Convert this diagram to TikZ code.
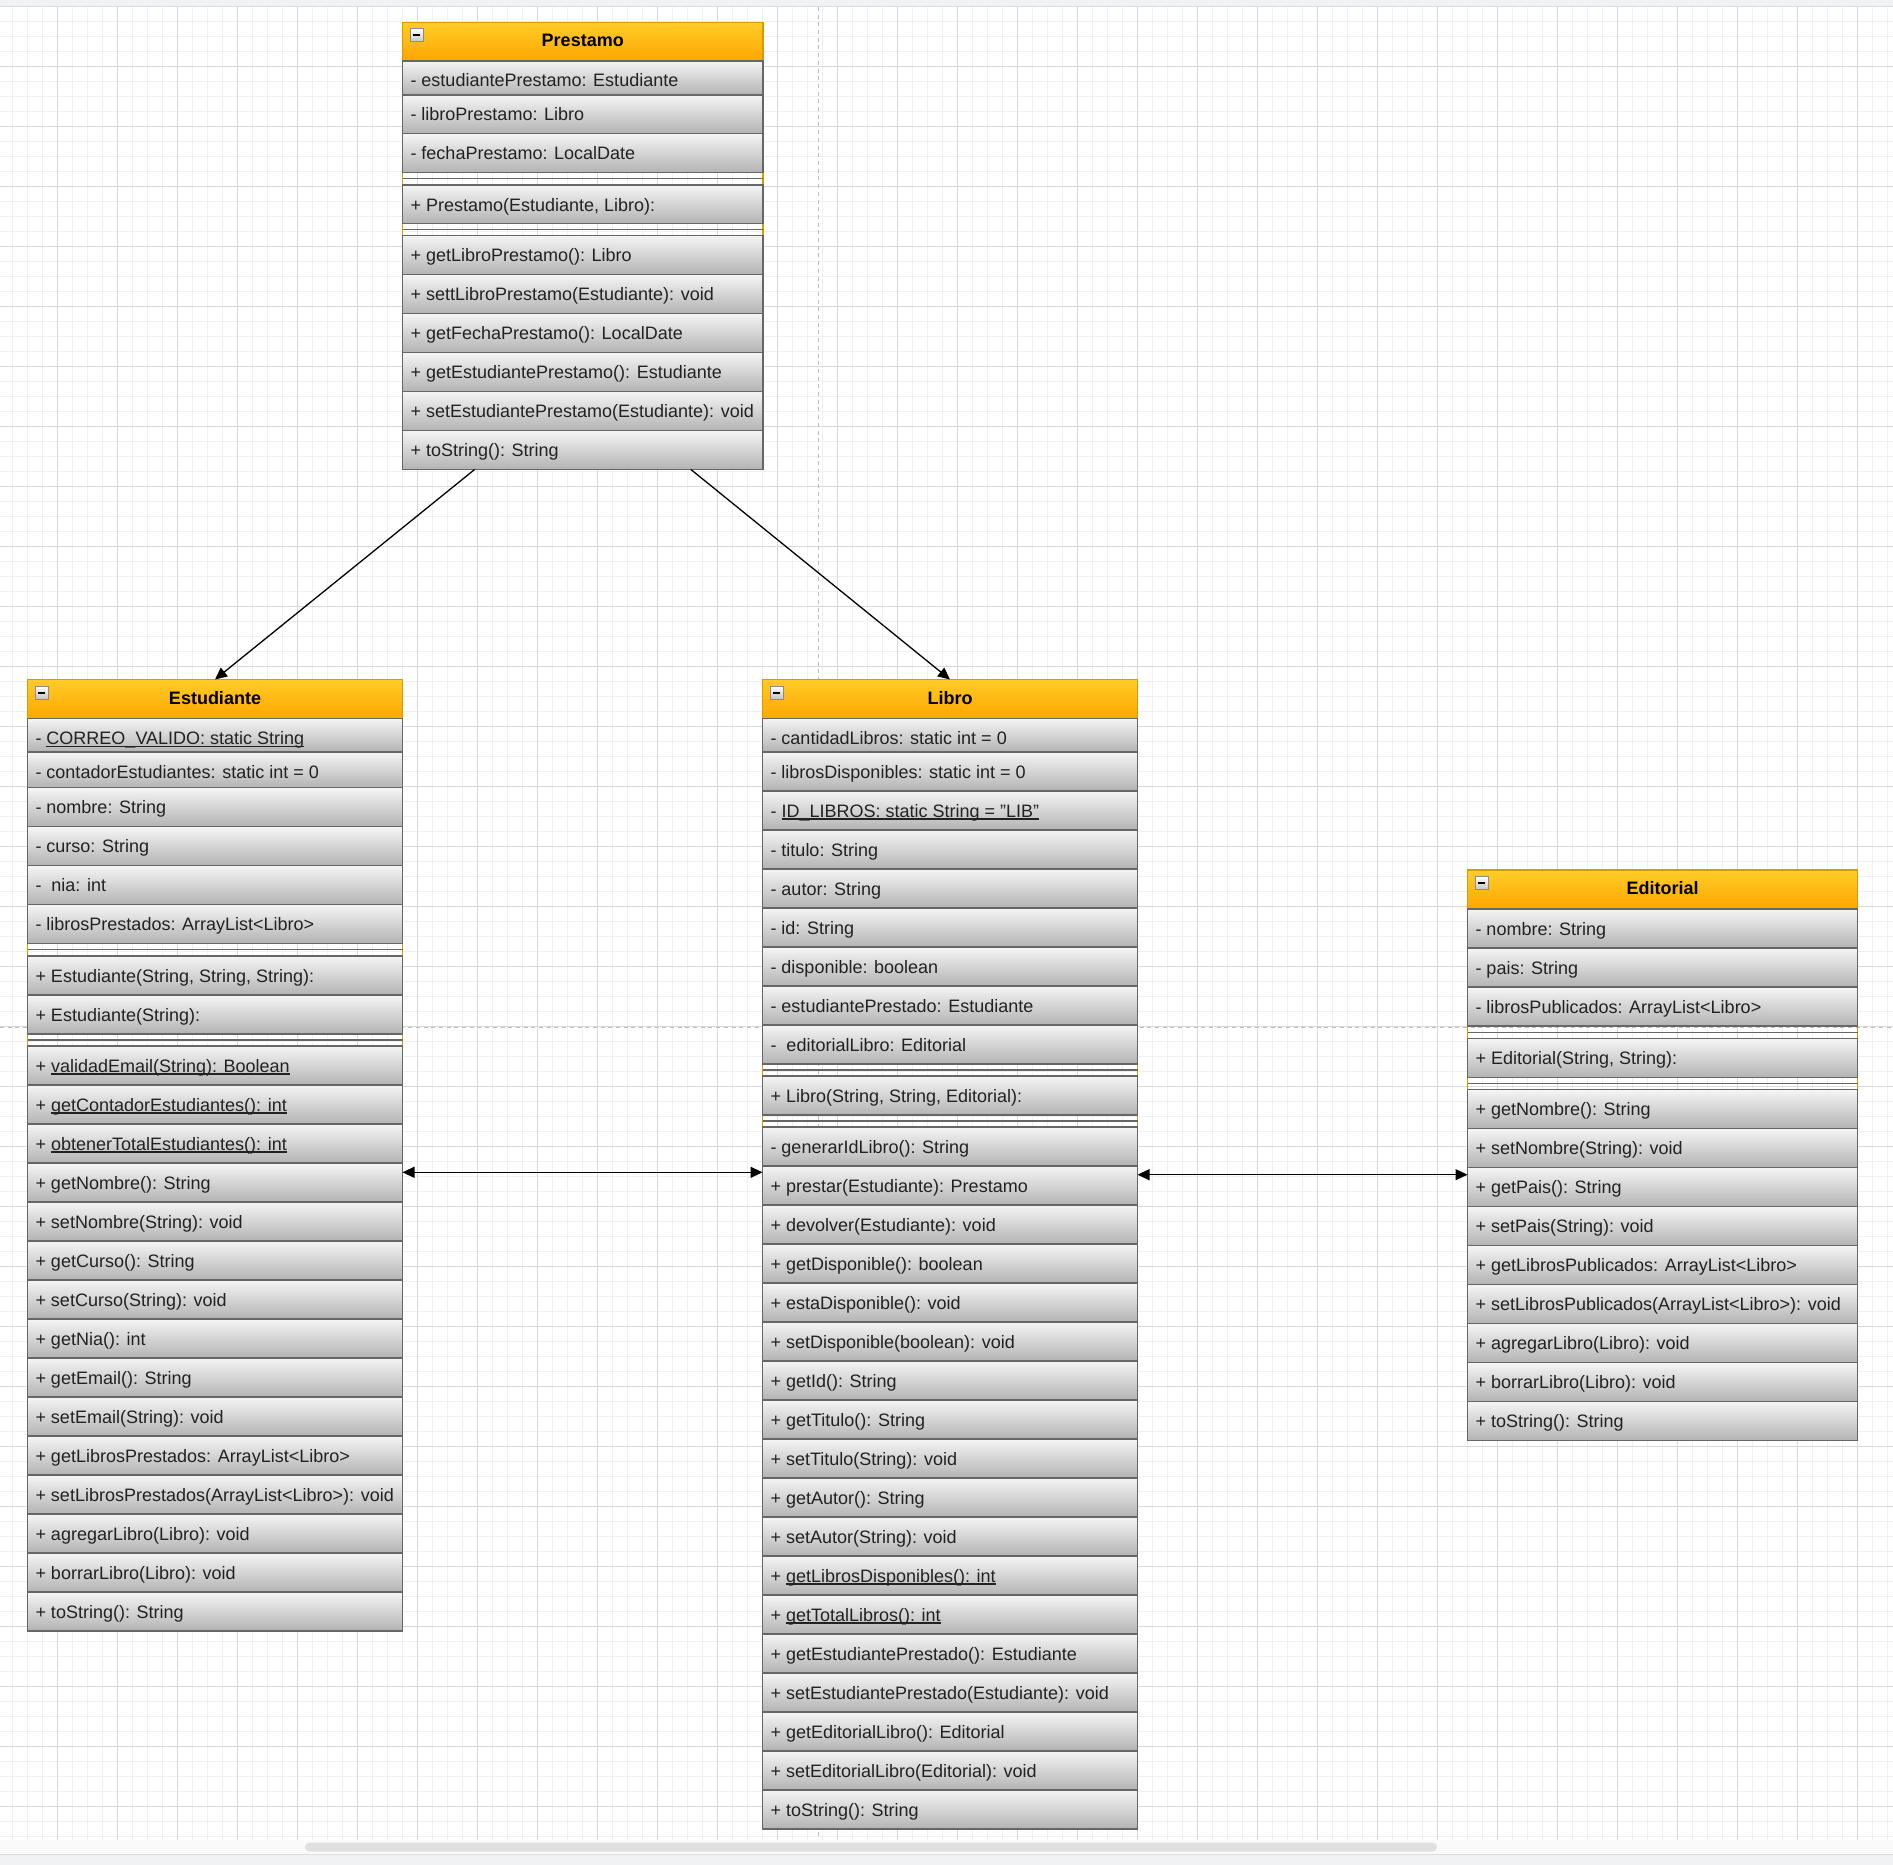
\documentclass[tikz,border=0pt]{standalone}
\usepackage{fontspec}
\setmainfont{Liberation Sans}
\usetikzlibrary{arrows.meta,calc}

\definecolor{headtop}{HTML}{FFCD28}
\definecolor{headbot}{HTML}{FFA500}
\definecolor{headline}{HTML}{D79B00}
\definecolor{rowtop}{HTML}{F5F5F5}
\definecolor{rowbot}{HTML}{B3B3B3}
\definecolor{rowline}{HTML}{666666}
\definecolor{ink}{HTML}{222222}
\definecolor{gridminor}{HTML}{F0F0F0}
\definecolor{gridmajor}{HTML}{D9D9D9}
\definecolor{pagebreak}{HTML}{BDBDBD}
\definecolor{chrome}{HTML}{F1F2F4}
\definecolor{chromeline}{HTML}{DADCE0}
\definecolor{trackbg}{HTML}{FAFAFA}
\definecolor{thumb}{HTML}{E0E0E0}
\definecolor{toggleline}{HTML}{8C8C8C}
\definecolor{togglebot}{HTML}{C4C4C4}

% underlined (static) member text
\newcommand{\staticmember}[1]{\setbox0\hbox{#1}\rlap{\rule[-2.6pt]{\wd0}{1.3pt}}\box0}

% one compartment row: name, left, top, height, width, text
\newcommand{\classrow}[6]{%
  \node[rowbox, minimum width=#5, minimum height=#4] (#1) at (#2,#3) {};
  \node[rowtext] (#1-text) at ({#2+8},{#3+26}) {#6};}

% divider between compartments: name, left, top, width, height
\newcommand{\classsep}[5]{%
  \node[sepband, minimum width=#4, minimum height=#5] (#1) at (#2,#3) {};
  \draw[sepline] (#1.west) -- (#1.east);}

% class title bar: name, left, top, width, height, title
\newcommand{\classhead}[6]{%
  \node[headbox, minimum width=#4, minimum height=#5] (#1) at (#2,#3) {};
  \node[titletext] (#1-title) at ({#2+#4/2},{#3+24.5}) {#6};
  \node[togglebox] (#1-toggle) at ({#2+7.5},{#3+6.5}) {};}

% run of equal method rows: prefix, left, top, width, entries
\newcommand{\methodlist}[5]{%
  \foreach \entry [count=\k] in {#5} {%
    \pgfmathsetmacro{\mtop}{#3+39*(\k-1)}%
    \classrow{#1\k}{#2}{\mtop}{39}{#4}{\entry}%
  }}

\tikzset{
  rowbox/.style={anchor=north west, inner sep=0, outer sep=0, draw=rowline,
    line width=1.5, top color=rowtop, bottom color=rowbot},
  headbox/.style={anchor=north west, inner sep=0, outer sep=0, draw=headline,
    line width=1.5, top color=headtop, bottom color=headbot},
  classframe/.style={anchor=north west, inner sep=0, outer sep=0, draw=headline, line width=1.5},
  sepband/.style={anchor=north west, inner sep=0, outer sep=0},
  sepline/.style={draw=rowline, line width=1.4},
  rowtext/.style={anchor=base west, inner sep=0, outer sep=0, text=ink,
    font=\fontsize{18}{21}\selectfont},
  titletext/.style={anchor=base, inner sep=0, outer sep=0, text=black,
    font=\bfseries\fontsize{18}{21}\selectfont},
  togglebox/.style={anchor=north west, inner sep=0, outer sep=0, minimum width=13,
    minimum height=13, draw=toggleline, line width=1, top color=white, bottom color=togglebot,
    path picture={\draw[black, line width=2] ([xshift=3pt]path picture bounding box.west)
      -- ([xshift=-3pt]path picture bounding box.east);}},
  assoc/.style={-{Triangle[length=12pt,width=11pt]}, line width=1.3, black},
  assocboth/.style={{Triangle[length=12pt,width=11pt]}-{Triangle[length=12pt,width=11pt]},
    line width=1.3, black},
  minorline/.style={draw=gridminor, line width=1},
  majorline/.style={draw=gridmajor, line width=1},
  breakline/.style={draw=pagebreak, line width=1, dash pattern=on 4pt off 3.7pt},
}

\begin{document}
\begin{tikzpicture}[x=1pt,y=-1pt]
\useasboundingbox (0,0) rectangle (1893,1865);

% canvas and grid
\fill[white] (0,7) rectangle (1893,1840);
\foreach \k in {0,...,125} \draw[minorline] ({12.5+15*\k},7) -- ({12.5+15*\k},1840);
\foreach \k in {0,...,121} \draw[minorline] (0,{21.5+15*\k}) -- (1893,{21.5+15*\k});
\foreach \k in {0,...,30} \draw[majorline] ({57.5+60*\k},7) -- ({57.5+60*\k},1840);
\foreach \k in {0,...,29} \draw[majorline] (0,{66.5+60*\k}) -- (1893,{66.5+60*\k});

% page breaks
\draw[breakline] (818,7) -- (818,1840);
\draw[breakline] (0,1027.5) -- (1893,1027.5);

% window chrome
\fill[chrome] (0,0) rectangle (1893,7);
\draw[chromeline, line width=1] (0,7) -- (1893,7);
\fill[trackbg] (0,1840) rectangle (1893,1854);
\fill[thumb, rounded corners=4.5pt] (305,1842.5) rectangle (1437,1851.5);
\fill[chrome] (0,1854) rectangle (1893,1865);
\draw[chromeline, line width=1] (0,1854) -- (1893,1854);

% ---------------- Prestamo ----------------
\node[classframe, minimum width=360.5, minimum height=447] (prestamo) at (402.5,22.5) {};
\classhead{prestamo-head}{402.5}{22.5}{360.5}{38.5}{Prestamo}
\classrow{prestamo-a1}{402.5}{61}{34}{360.5}{- estudiantePrestamo: Estudiante}
\classrow{prestamo-a2}{402.5}{95}{38.5}{360.5}{- libroPrestamo: Libro}
\classrow{prestamo-a3}{402.5}{133.5}{39}{360.5}{- fechaPrestamo: LocalDate}
\classsep{prestamo-s1}{402.5}{172.5}{360.5}{12.5}
\classrow{prestamo-c1}{402.5}{185}{38.5}{360.5}{+ Prestamo(Estudiante, Libro):}
\classsep{prestamo-s2}{402.5}{223.5}{360.5}{12}
\methodlist{prestamo-m}{402.5}{235.5}{360.5}{
  {+ getLibroPrestamo(): Libro},
  {+ settLibroPrestamo(Estudiante): void},
  {+ getFechaPrestamo(): LocalDate},
  {+ getEstudiantePrestamo(): Estudiante},
  {+ setEstudiantePrestamo(Estudiante): void},
  {+ toString(): String}}

% ---------------- Estudiante ----------------
\node[classframe, minimum width=375, minimum height=951.5] (estudiante) at (27.5,679.5) {};
\classhead{estudiante-head}{27.5}{679.5}{375}{39}{Estudiante}
\classrow{estudiante-a1}{27.5}{718.5}{33.5}{375}{- \staticmember{CORREO\_VALIDO: static String}}
\classrow{estudiante-a2}{27.5}{752}{35.5}{375}{- contadorEstudiantes: static int = 0}
\classrow{estudiante-a3}{27.5}{787.5}{39}{375}{- nombre: String}
\classrow{estudiante-a4}{27.5}{826.5}{39}{375}{- curso: String}
\classrow{estudiante-a5}{27.5}{865.5}{39}{375}{-\ \ nia: int}
\classrow{estudiante-a6}{27.5}{904.5}{39}{375}{- librosPrestados: ArrayList<Libro>}
\classsep{estudiante-s1}{27.5}{943.5}{375}{12.5}
\classrow{estudiante-c1}{27.5}{956}{39}{375}{+ Estudiante(String, String, String):}
\classrow{estudiante-c2}{27.5}{995}{39}{375}{+ Estudiante(String):}
\classsep{estudiante-s2}{27.5}{1034}{375}{12}
\methodlist{estudiante-m}{27.5}{1046}{375}{
  {+ \staticmember{validadEmail(String): Boolean}},
  {+ \staticmember{getContadorEstudiantes(): int}},
  {+ \staticmember{obtenerTotalEstudiantes(): int}},
  {+ getNombre(): String},
  {+ setNombre(String): void},
  {+ getCurso(): String},
  {+ setCurso(String): void},
  {+ getNia(): int},
  {+ getEmail(): String},
  {+ setEmail(String): void},
  {+ getLibrosPrestados: ArrayList<Libro>},
  {+ setLibrosPrestados(ArrayList<Libro>): void},
  {+ agregarLibro(Libro): void},
  {+ borrarLibro(Libro): void},
  {+ toString(): String}}

% ---------------- Libro ----------------
\node[classframe, minimum width=375, minimum height=1149.5] (libro) at (762.5,679.5) {};
\classhead{libro-head}{762.5}{679.5}{375}{39}{Libro}
\classrow{libro-a1}{762.5}{718.5}{33.5}{375}{- cantidadLibros: static int = 0}
\classrow{libro-a2}{762.5}{752}{39}{375}{- librosDisponibles: static int = 0}
\classrow{libro-a3}{762.5}{791}{39}{375}{- \staticmember{ID\_LIBROS: static String = "LIB"}}
\classrow{libro-a4}{762.5}{830}{39}{375}{- titulo: String}
\classrow{libro-a5}{762.5}{869}{39}{375}{- autor: String}
\classrow{libro-a6}{762.5}{908}{39}{375}{- id: String}
\classrow{libro-a7}{762.5}{947}{39}{375}{- disponible: boolean}
\classrow{libro-a8}{762.5}{986}{39}{375}{- estudiantePrestado: Estudiante}
\classrow{libro-a9}{762.5}{1025}{39}{375}{-\ \ editorialLibro: Editorial}
\classsep{libro-s1}{762.5}{1064}{375}{12}
\classrow{libro-c1}{762.5}{1076}{39}{375}{+ Libro(String, String, Editorial):}
\classsep{libro-s2}{762.5}{1115}{375}{12}
\methodlist{libro-m}{762.5}{1127}{375}{
  {- generarIdLibro(): String},
  {+ prestar(Estudiante): Prestamo},
  {+ devolver(Estudiante): void},
  {+ getDisponible(): boolean},
  {+ estaDisponible(): void},
  {+ setDisponible(boolean): void},
  {+ getId(): String},
  {+ getTitulo(): String},
  {+ setTitulo(String): void},
  {+ getAutor(): String},
  {+ setAutor(String): void},
  {+ \staticmember{getLibrosDisponibles(): int}},
  {+ \staticmember{getTotalLibros(): int}},
  {+ getEstudiantePrestado(): Estudiante},
  {+ setEstudiantePrestado(Estudiante): void},
  {+ getEditorialLibro(): Editorial},
  {+ setEditorialLibro(Editorial): void},
  {+ toString(): String}}

% ---------------- Editorial ----------------
\node[classframe, minimum width=390, minimum height=570.5] (editorial) at (1467.5,870) {};
\classhead{editorial-head}{1467.5}{870}{390}{39}{Editorial}
\classrow{editorial-a1}{1467.5}{909}{39}{390}{- nombre: String}
\classrow{editorial-a2}{1467.5}{948}{39}{390}{- pais: String}
\classrow{editorial-a3}{1467.5}{987}{39}{390}{- librosPublicados: ArrayList<Libro>}
\classsep{editorial-s1}{1467.5}{1026}{390}{12.5}
\classrow{editorial-c1}{1467.5}{1038.5}{39}{390}{+ Editorial(String, String):}
\classsep{editorial-s2}{1467.5}{1077.5}{390}{12}
\methodlist{editorial-m}{1467.5}{1089.5}{390}{
  {+ getNombre(): String},
  {+ setNombre(String): void},
  {+ getPais(): String},
  {+ setPais(String): void},
  {+ getLibrosPublicados: ArrayList<Libro>},
  {+ setLibrosPublicados(ArrayList<Libro>): void},
  {+ agregarLibro(Libro): void},
  {+ borrarLibro(Libro): void},
  {+ toString(): String}}

% ---------------- associations ----------------
\draw[assoc] ($(prestamo.south west)!0.2!(prestamo.south east)$) -- (estudiante.north);
\draw[assoc] ($(prestamo.south west)!0.8!(prestamo.south east)$) -- (libro.north);
\coordinate (linkA) at (0,1172.3);
\draw[assocboth] (estudiante.east |- linkA) -- (libro.west |- linkA);
\coordinate (linkB) at (0,1174.7);
\draw[assocboth] (libro.east |- linkB) -- (editorial.west |- linkB);
\end{tikzpicture}
\end{document}
